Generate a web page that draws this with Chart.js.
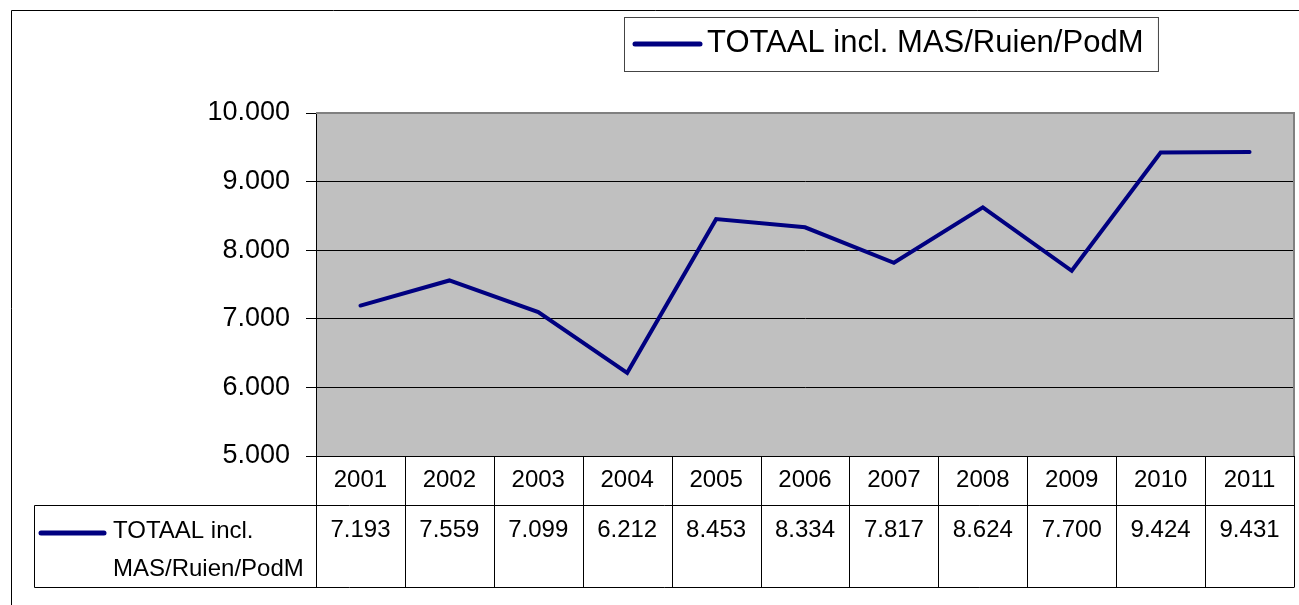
<!DOCTYPE html>
<html lang="nl">
<head>
    <meta charset="UTF-8">
    <title>TOTAAL incl. MAS/Ruien/PodM</title>
    <script src="https://cdn.jsdelivr.net/npm/chart.js"></script>
    <style>
        body {
            margin: 0;
            background-color: white;
        }
        #wrap {
            width: 1299px;
            height: 605px;
        }
    </style>
</head>
<body>
    <div id="wrap">
        <canvas id="graph" width="1299" height="605"></canvas>
    </div>

    <script>
        // chart data
        const years = ['2001', '2002', '2003', '2004', '2005', '2006', '2007', '2008', '2009', '2010', '2011'];
        const totals = [7193, 7559, 7099, 6212, 8453, 8334, 7817, 8624, 7700, 9424, 9431];
        const seriesName = 'TOTAAL incl. MAS/Ruien/PodM';
        const tableLabel = ['TOTAAL incl.', 'MAS/Ruien/PodM'];

        const FONT = '"Liberation Sans", Arial, sans-serif';
        const NAVY = '#000080';

        // 7193 -> "7.193"
        function fmt(v) {
            return String(v).replace(/\B(?=(\d{3})+(?!\d))/g, '.');
        }

        const frame = {
            id: 'frame',
            beforeDraw(chart) {
                const ctx = chart.ctx;
                const a = chart.chartArea;
                ctx.save();
                // plot background
                ctx.fillStyle = '#c0c0c0';
                ctx.fillRect(a.left, a.top, a.right - a.left, a.bottom - a.top);
                // outer chart border (only top and left are in view)
                ctx.strokeStyle = '#000';
                ctx.lineWidth = 1;
                ctx.beginPath();
                ctx.moveTo(11.5, 620);
                ctx.lineTo(11.5, 10.5);
                ctx.lineTo(1310, 10.5);
                ctx.stroke();
                ctx.restore();
            },
            afterDraw(chart) {
                const ctx = chart.ctx;
                const a = chart.chartArea;
                const x = chart.scales.x;
                ctx.save();

                // gray plot border top and right
                ctx.strokeStyle = '#808080';
                ctx.lineWidth = 2;
                ctx.beginPath();
                ctx.moveTo(a.left, a.top);
                ctx.lineTo(a.right, a.top);
                ctx.lineTo(a.right, a.bottom);
                ctx.stroke();

                // data table
                const rowTop = a.bottom;
                const rowMid = 505.5;
                const rowBot = 587.5;
                const tableLeft = 34.5;
                const edges = [a.left];
                for (let i = 1; i < years.length; i++) {
                    edges.push((x.getPixelForValue(i - 1) + x.getPixelForValue(i)) / 2);
                }
                edges.push(a.right);

                ctx.strokeStyle = '#000';
                ctx.lineWidth = 1;
                ctx.beginPath();
                ctx.moveTo(a.left, rowTop + 0.5);
                ctx.lineTo(a.right, rowTop + 0.5);
                ctx.moveTo(tableLeft, rowMid);
                ctx.lineTo(a.right, rowMid);
                ctx.moveTo(tableLeft, rowBot);
                ctx.lineTo(a.right, rowBot);
                ctx.moveTo(tableLeft, rowMid);
                ctx.lineTo(tableLeft, rowBot);
                edges.forEach(e => {
                    const ex = Math.round(e) + 0.5;
                    ctx.moveTo(ex, rowTop);
                    ctx.lineTo(ex, rowBot);
                });
                ctx.stroke();

                // values row
                ctx.fillStyle = '#000';
                ctx.font = '24px ' + FONT;
                ctx.textAlign = 'center';
                ctx.textBaseline = 'middle';
                totals.forEach((v, i) => {
                    ctx.fillText(fmt(v), x.getPixelForValue(i), 530);
                });

                // series key in table
                ctx.strokeStyle = NAVY;
                ctx.lineWidth = 5;
                ctx.lineCap = 'round';
                ctx.beginPath();
                ctx.moveTo(41, 533);
                ctx.lineTo(104, 533);
                ctx.stroke();
                ctx.textAlign = 'left';
                ctx.fillText(tableLabel[0], 113, 531);
                ctx.fillText(tableLabel[1], 113, 569);

                // legend box at top
                ctx.font = '31px ' + FONT;
                const tw = ctx.measureText(seriesName).width;
                const bx = 624.5, by = 17.5;
                const bw = 707 + tw + 15 - bx;
                ctx.fillStyle = '#fff';
                ctx.fillRect(bx, by, bw, 54);
                ctx.strokeStyle = '#444';
                ctx.lineWidth = 1;
                ctx.strokeRect(bx, by, bw, 54);
                ctx.strokeStyle = NAVY;
                ctx.lineWidth = 5;
                ctx.beginPath();
                ctx.moveTo(635, 44);
                ctx.lineTo(700, 44);
                ctx.stroke();
                ctx.fillStyle = '#000';
                ctx.fillText(seriesName, 707, 43);

                ctx.restore();
            }
        };

        const ctx = document.getElementById('graph').getContext('2d');
        new Chart(ctx, {
            type: 'line',
            data: {
                labels: years,
                datasets: [{
                    label: seriesName,
                    data: totals,
                    borderColor: NAVY,
                    borderWidth: 4,
                    borderCapStyle: 'round',
                    pointRadius: 0,
                    tension: 0,
                    fill: false,
                }],
            },
            options: {
                responsive: false,
                devicePixelRatio: 1,
                animation: false,
                layout: { padding: { left: 0, top: 113, right: 5, bottom: 0 } },
                plugins: {
                    legend: { display: false },
                    tooltip: { enabled: false },
                },
                scales: {
                    x: {
                        offset: true,
                        grid: { display: false, drawTicks: false, tickLength: 0 },
                        border: { display: false },
                        ticks: {
                            color: '#000',
                            font: { family: FONT, size: 24 },
                            padding: 10,
                            maxRotation: 0,
                            autoSkip: false,
                        },
                        afterFit(scale) { scale.height = 149; },
                    },
                    y: {
                        min: 5000,
                        max: 10000,
                        ticks: {
                            stepSize: 1000,
                            color: '#000',
                            font: { family: FONT, size: 27 },
                            padding: 16,
                            callback: v => fmt(v),
                        },
                        grid: { color: '#000', lineWidth: 1, tickLength: 10 },
                        border: { display: true, color: '#000', width: 1 },
                        afterFit(scale) { scale.width = 316; },
                    },
                },
            },
            plugins: [frame],
        });
    </script>
</body>
</html>
